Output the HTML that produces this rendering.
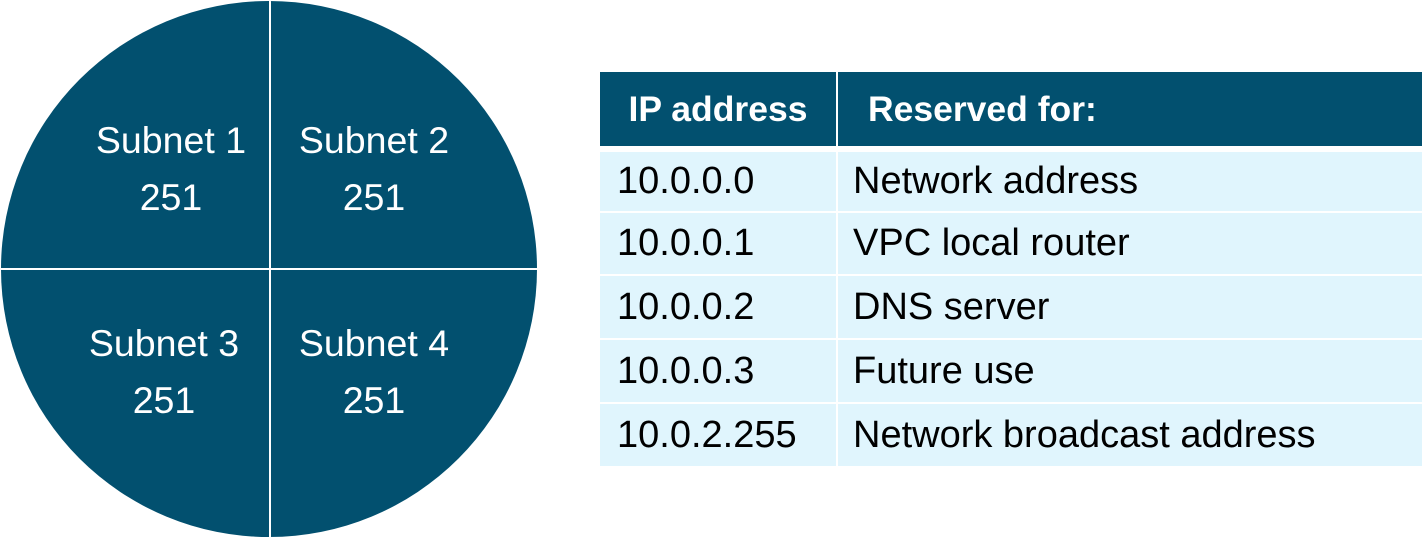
<!DOCTYPE html>
<html><head><style>
body{margin:0;width:1428px;height:539px;background:#fff;position:relative;overflow:hidden;font-family:"Liberation Sans","DejaVu Sans",sans-serif}
.c{position:absolute;left:1px;top:1px;width:536px;height:536px;border-radius:50%;background:#02506f;overflow:hidden}
.v{position:absolute;left:268px;top:0;width:2px;height:536px;background:#fff}
.h{position:absolute;top:267px;left:0;width:536px;height:2px;background:#fff}
.l{position:absolute;color:#fff;font-size:37.5px;text-align:center;width:200px;line-height:57px}
.cell{position:absolute;font-size:38px;color:#000;box-sizing:border-box;padding-left:17px;display:flex;align-items:center;background:#e0f5fd}
.hd{background:#02506f;color:#fff;font-weight:bold;font-size:35.5px;justify-content:center;padding-left:0}
</style></head><body>
<div class="c"><div class="v"></div><div class="h"></div>
<div class="l" style="left:70px;top:111px">Subnet 1<br>251</div>
<div class="l" style="left:273px;top:111px">Subnet 2<br>251</div>
<div class="l" style="left:63px;top:314px">Subnet 3<br>251</div>
<div class="l" style="left:273px;top:314px">Subnet 4<br>251</div>
</div>
<div class="cell hd" style="left:600px;top:72px;width:236px;height:74px">IP address</div>
<div class="cell hd" style="left:838px;top:72px;width:584px;height:74px;justify-content:flex-start;padding-left:30px">Reserved for:</div>
<div class="cell" style="left:600px;top:152px;width:236px;height:59px">10.0.0.0</div>
<div class="cell" style="left:838px;top:152px;width:584px;height:59px;padding-left:15px">Network address</div>
<div class="cell" style="left:600px;top:213px;width:236px;height:61px">10.0.0.1</div>
<div class="cell" style="left:838px;top:213px;width:584px;height:61px;padding-left:15px">VPC local router</div>
<div class="cell" style="left:600px;top:276px;width:236px;height:62px">10.0.0.2</div>
<div class="cell" style="left:838px;top:276px;width:584px;height:62px;padding-left:15px">DNS server</div>
<div class="cell" style="left:600px;top:340px;width:236px;height:62px">10.0.0.3</div>
<div class="cell" style="left:838px;top:340px;width:584px;height:62px;padding-left:15px">Future use</div>
<div class="cell" style="left:600px;top:404px;width:236px;height:62px">10.0.2.255</div>
<div class="cell" style="left:838px;top:404px;width:584px;height:62px;padding-left:15px">Network broadcast address</div>
</body></html>
